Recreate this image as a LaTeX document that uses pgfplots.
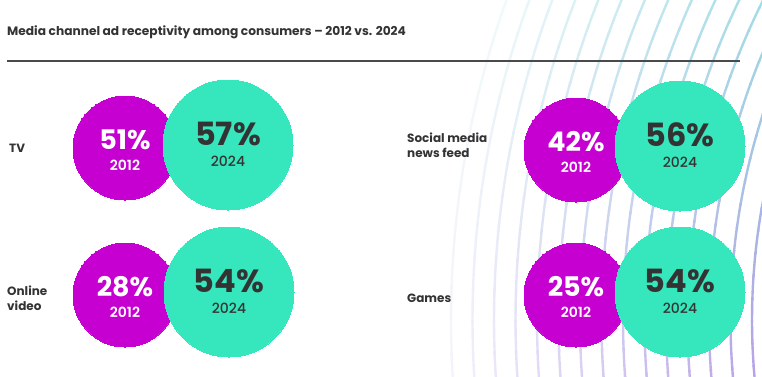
\documentclass[border=0pt]{standalone}
\usepackage{pgfplots}
\pgfplotsset{compat=1.18}
\usepackage{pgfplotstable}
\usepackage{fontspec}
\setmainfont{Poppins}[BoldFont={Poppins SemiBold}]
\newfontfamily\pbold{Poppins Bold}
\newfontfamily\pmed{Poppins Medium}
\definecolor{cpurple}{HTML}{C500D0}
\definecolor{cteal}{HTML}{36E6BC}
\definecolor{ctext}{HTML}{333333}
\definecolor{cline}{HTML}{4A4A4A}
\definecolor{arcTop}{HTML}{8FD5E0}
\definecolor{arcBot}{HTML}{B9A2E6}

% circle centres in px from the top-left, turned to axis units (y = 376 - y_px)
\pgfplotstableread{
x   y   val
125 228 51
125 81  28
576 226 42
576 81  25
}\olddata
\pgfplotstableread{
x   y   val
228 231 57
229 84  54
680 230 56
680 84  54
}\newdata

\begin{document}
\begin{tikzpicture}
\useasboundingbox (0,0) rectangle (762pt,376pt);
% decorative concentric arcs
\begin{scope}
\clip (0,0) rectangle (762pt,376pt);
\foreach \k in {0,...,14} {
  \pgfmathsetmacro{\R}{650+21.5*\k}
  \pgfmathsetmacro{\fade}{max(8,100*(1-\k/16)^0.95)}
  \foreach \a in {140,142,...,190} {
    \pgfmathsetmacro{\ym}{56+\R*sin(\a+1)}
    \pgfmathsetmacro{\t}{max(0,min(100,\ym/376*100))}
    \colorlet{tmpc}{arcTop!\t!arcBot}
    \draw[line width=2.4pt, color=tmpc!\fade!white]
      ({1402pt+\R pt*cos(\a)},{56pt+\R pt*sin(\a)})
      arc[start angle=\a, end angle=\a+2.2, radius=\R pt];
  }
}
\end{scope}
\begin{axis}[at={(0,0)}, anchor=south west,
  width=762pt, height=376pt, scale only axis,
  xmin=0, xmax=762, ymin=0, ymax=376,
  hide axis, clip=false]
% 2012 bubbles
\addplot[only marks, color=cpurple, mark=*, mark size=52pt,
  mark options={draw=cpurple, fill=cpurple, line width=0pt},
  point meta=explicit symbolic,
  nodes near coords={\pgfplotspointmeta\%},
  every node near coord/.style={anchor=center, yshift=8pt, text=white,
    font=\pbold\fontsize{27}{27}\selectfont}]
  table[x=x, y=y, meta=val] {\olddata};
\addplot[only marks, mark=none,
  nodes near coords={2012},
  every node near coord/.style={anchor=center, yshift=-17pt, text=white,
    font=\bfseries\fontsize{14}{14}\selectfont}]
  table[x=x, y=y] {\olddata};
% 2024 bubbles
\addplot[only marks, color=cteal, mark=*, mark size=65pt,
  mark options={draw=cteal, fill=cteal, line width=0pt},
  point meta=explicit symbolic,
  nodes near coords={\pgfplotspointmeta\%},
  every node near coord/.style={anchor=center, yshift=11pt, text=ctext,
    font=\pbold\fontsize{32}{32}\selectfont}]
  table[x=x, y=y, meta=val] {\newdata};
\addplot[only marks, mark=none,
  nodes near coords={2024},
  every node near coord/.style={anchor=center, yshift=-16pt, text=ctext,
    font=\pmed\fontsize{14}{14}\selectfont}]
  table[x=x, y=y] {\newdata};
% title and rule
\node[anchor=west, inner sep=0pt, text=ctext, font=\pbold\fontsize{12.2}{14}\selectfont]
  at (axis cs:7,344) {Media channel ad receptivity among consumers – 2012 vs. 2024};
\draw[line width=2pt, color=cline] (axis cs:7,315) -- (axis cs:740,315);
% category labels
\node[anchor=west, inner sep=0pt, align=left, text=ctext, font=\pbold\fontsize{12}{15}\selectfont]
  at (axis cs:9,228) {TV};
\node[anchor=west, inner sep=0pt, align=left, text=ctext, font=\pbold\fontsize{12}{15}\selectfont]
  at (axis cs:7,78) {Online\\video};
\node[anchor=west, inner sep=0pt, align=left, text=ctext, font=\pbold\fontsize{12}{15}\selectfont]
  at (axis cs:407,231) {Social media\\news feed};
\node[anchor=west, inner sep=0pt, align=left, text=ctext, font=\pbold\fontsize{12}{15}\selectfont]
  at (axis cs:407,78) {Games};
\end{axis}
\end{tikzpicture}
\end{document}
